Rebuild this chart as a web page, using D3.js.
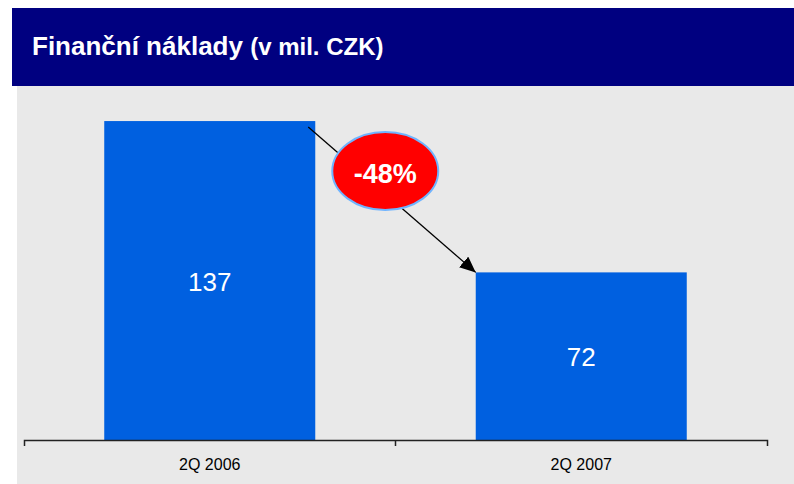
<!DOCTYPE html>
<html>
<head>
<meta charset="utf-8">
<script src="https://cdn.jsdelivr.net/npm/d3@7"></script>
<style>
  body { margin: 0; background: #ffffff; }
  svg { display: block; font-family: Arial, "Liberation Sans", sans-serif; }
</style>
</head>
<body>
<div id="chart"></div>
<script>
// data
var categories = ["2Q 2006", "2Q 2007"];
var values = [137, 72];
var changeLabel = "-48%";
var titleMain = "Finanční náklady";
var titleUnit = "(v mil. CZK)";

var width = 794, height = 484;

var svg = d3.select("#chart")
  .append("svg")
  .attr("width", width)
  .attr("height", height);

// arrow head
svg.append("defs").append("marker")
  .attr("id", "head")
  .attr("viewBox", "0 0 16 14")
  .attr("refX", 16)
  .attr("refY", 7)
  .attr("markerWidth", 16)
  .attr("markerHeight", 14)
  .attr("markerUnits", "userSpaceOnUse")
  .attr("orient", "auto")
  .append("path")
  .attr("d", "M0,0L16,7L0,14Z")
  .attr("fill", "#000");

// title bar + grey panel
svg.append("rect").attr("x", 12).attr("y", 8).attr("width", width - 12).attr("height", 78).attr("fill", "#000080");
svg.append("rect").attr("x", 17).attr("y", 86).attr("width", width - 17).attr("height", height - 86).attr("fill", "#e9e9e9");

var title = svg.append("text")
  .attr("x", 32)
  .attr("y", 55)
  .attr("fill", "#fff")
  .attr("font-weight", "bold");
title.append("tspan").attr("font-size", "26px").text(titleMain + " ");
title.append("tspan").attr("font-size", "24px").text(titleUnit);

// scales
var x = d3.scaleBand()
  .domain(categories)
  .range([24, 767])
  .paddingInner(0.432)
  .paddingOuter(0.216);

var y = d3.scaleLinear()
  .domain([0, 150])
  .range([440, 440 - 150 * 2.328]);

// bars
svg.selectAll("rect.bar")
  .data(values)
  .enter()
  .append("rect")
    .attr("class", "bar")
    .attr("x", function (d, i) { return x(categories[i]); })
    .attr("y", function (d) { return y(d); })
    .attr("width", x.bandwidth())
    .attr("height", function (d) { return y(0) - y(d); })
    .attr("fill", "#0060e0");

// value labels in the middle of each bar
svg.selectAll("text.val")
  .data(values)
  .enter()
  .append("text")
    .attr("class", "val")
    .attr("x", function (d, i) { return x(categories[i]) + x.bandwidth() / 2; })
    .attr("y", function (d) { return (y(d) + y(0)) / 2 + 10; })
    .attr("text-anchor", "middle")
    .attr("font-size", "26px")
    .attr("fill", "#fff")
    .text(function (d) { return d; });

// x axis
var axis = svg.append("g")
  .attr("transform", "translate(0," + y(0) + ")")
  .call(d3.axisBottom(x).tickSizeInner(0).tickSizeOuter(6).tickPadding(19));
axis.select(".domain").attr("stroke", "#222").attr("stroke-width", 1.5);
axis.selectAll("text").attr("font-size", "16px").attr("fill", "#000")
  .attr("font-family", "Arial, 'Liberation Sans', sans-serif");

// tick between the two categories
var gap = x.step() * x.paddingInner();
var midX = x(categories[1]) - gap / 2;
axis.append("line")
  .attr("x1", midX).attr("x2", midX)
  .attr("y1", 0).attr("y2", 6)
  .attr("stroke", "#222").attr("stroke-width", 1.5);

// change arrow from bar 1 to bar 2
var x0 = x(categories[0]) + x.bandwidth() - 7, y0 = y(values[0]) + 6;
var x1 = x(categories[1]), y1 = y(values[1]);
svg.append("line")
  .attr("x1", x0).attr("y1", y0)
  .attr("x2", x1).attr("y2", y1)
  .attr("stroke", "#000")
  .attr("stroke-width", 1.3)
  .attr("marker-end", "url(#head)");

// red ellipse with the change
var cx = x0 + 77, cy = y0 + 44;
svg.append("ellipse")
  .attr("cx", cx).attr("cy", cy)
  .attr("rx", 53).attr("ry", 39)
  .attr("fill", "#ff0000")
  .attr("stroke", "#6fb4ff")
  .attr("stroke-width", 2);
svg.append("text")
  .attr("x", cx).attr("y", cy + 12)
  .attr("text-anchor", "middle")
  .attr("font-size", "27px")
  .attr("font-weight", "bold")
  .attr("fill", "#fff")
  .text(changeLabel);
</script>
</body>
</html>
